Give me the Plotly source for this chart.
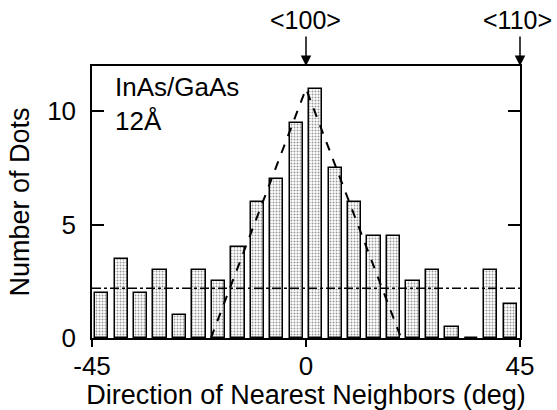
import plotly.graph_objects as go

# Histogram of nearest-neighbour directions (22 bins over -45..45 deg)
bin_start = -45.0
bin_end = 45.0
counts = [2, 3.5, 2, 3, 1, 3, 2.5, 4, 6, 7, 9.5,
          11, 7.5, 6, 4.5, 4.5, 2.5, 3, 0.5, 0, 3, 1.5]
background_level = 2.2
peak_x = [-20, 0, 20]
peak_y = [0, 11, 0]
x_ticks = [-45, 0, 45]
y_ticks = [0, 5, 10]
direction_labels = ["<100>", "<110>"]
direction_x = [0, 45]
sample_label = "InAs/GaAs<br>12Å"

n = len(counts)
bw = (bin_end - bin_start) / n
centers = [bin_start + (i + 0.5) * bw for i in range(n)]

FONT = "Liberation Sans, Arial, Helvetica, sans-serif"

fig = go.Figure()
fig.add_trace(go.Bar(
    x=centers, y=counts, width=bw * 0.68,
    marker=dict(color="white",
                line=dict(color="black", width=1.5),
                pattern=dict(shape=".", fgcolor="#333333", bgcolor="white",
                             size=3, solidity=0.35)),
    showlegend=False, hoverinfo="skip"))
fig.add_trace(go.Scatter(
    x=[bin_start, bin_end], y=[background_level, background_level],
    mode="lines", line=dict(color="black", width=1.5, dash="dashdot"),
    showlegend=False))
fig.add_trace(go.Scatter(
    x=peak_x, y=peak_y, mode="lines",
    line=dict(color="black", width=2, dash="dash"),
    showlegend=False))

# direction arrows (arrow only) + labels
for lab, xv in zip(direction_labels, direction_x):
    fig.add_annotation(x=xv, y=12, xref="x", yref="y", text="",
                       showarrow=True, ax=0, ay=-31, arrowhead=2,
                       arrowsize=1.4, arrowwidth=1.5, arrowcolor="black",
                       standoff=0, startstandoff=0)
    fig.add_annotation(x=xv, y=12, xref="x", yref="y", text=lab,
                       showarrow=False, yanchor="bottom", yshift=30,
                       xshift=(-1 if xv < 40 else -3),
                       font=dict(family=FONT, size=25, color="black"))

fig.add_annotation(x=0.052, y=0.98, xref="paper", yref="paper",
                   xanchor="left", yanchor="top", align="left",
                   text=sample_label, showarrow=False, borderpad=0,
                   font=dict(family=FONT, size=26, color="black"))

fig.update_layout(
    width=557, height=410,
    margin=dict(l=92, r=37, t=66, b=72),
    paper_bgcolor="white", plot_bgcolor="white",
    font=dict(family=FONT, color="black", size=26),
    bargap=0,
)
fig.update_xaxes(range=[bin_start, bin_end], tickvals=x_ticks,
                 ticktext=[str(v) for v in x_ticks],
                 ticks="outside", ticklen=7, tickwidth=1.5, tickcolor="black",
                 showline=True, linecolor="black", linewidth=1.5, mirror=True,
                 showgrid=False, zeroline=False, automargin=False,
                 tickfont=dict(size=26), ticklabelstandoff=-3,
                 title=dict(text="Direction of Nearest Neighbors (deg)",
                            font=dict(size=27), standoff=2))
fig.update_yaxes(range=[0, 12], tickvals=y_ticks,
                 ticks="inside", ticklen=12, tickwidth=1.5, tickcolor="black",
                 showline=True, linecolor="black", linewidth=1.5, mirror="ticks",
                 showgrid=False, zeroline=False, automargin=False,
                 tickfont=dict(size=26), ticklabelstandoff=9,
                 title=dict(text="Number of Dots", font=dict(size=27),
                            standoff=10))

fig.write_html("out.html",
               config={"displayModeBar": False},
               post_script="document.body.style.margin='0';"
                           "document.body.style.overflow='hidden';")
